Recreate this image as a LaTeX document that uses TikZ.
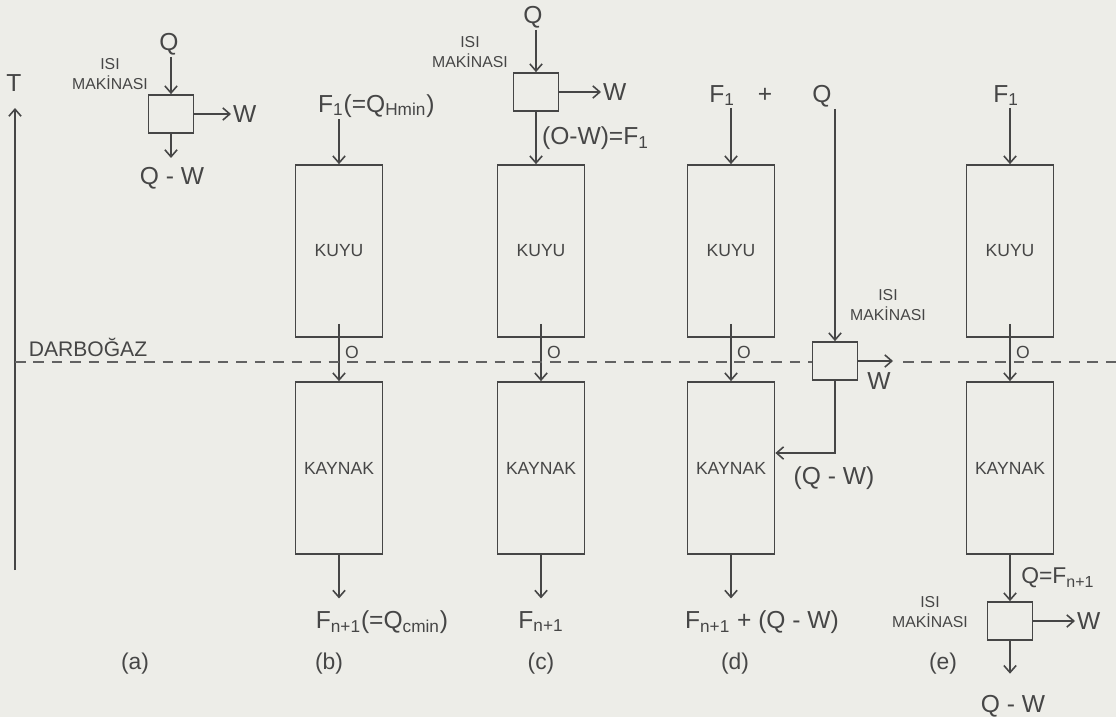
\documentclass[tikz,border=0pt]{standalone}
\usepackage{fontspec}
\setmainfont{Liberation Sans}
\usepackage{tikz}
\usetikzlibrary{arrows.meta,positioning}

\definecolor{kagit}{RGB}{237,237,232}
\definecolor{kalem}{RGB}{70,70,70}

\begin{document}
\begin{tikzpicture}[
    x=0.02cm, y=-0.02cm,
    every node/.style={text=kalem, inner sep=1pt, font=\fontsize{14}{16}\selectfont},
    blok/.style={draw=kalem, line width=1pt, minimum width=1.74cm, minimum height=3.44cm, font=\fontsize{10}{12}\selectfont},
    makina/.style={draw=kalem, fill=kagit, line width=1pt, minimum width=0.9cm, minimum height=0.76cm},
    isi/.style={align=center, inner sep=0pt, font=\fontsize{9}{11}\selectfont},
    harf/.style={font=\fontsize{13}{15}\selectfont},
    ok/.style={draw=kalem, line width=0.9pt, -{Straight Barb[length=4pt,width=7pt]}},
    kesik/.style={draw=kalem!85, line width=0.8pt, dash pattern=on 6pt off 4.5pt}
  ]
  \fill[kagit] (0,0) rectangle (1116,717);
  \useasboundingbox (0,0) rectangle (1116,717);

  \node (t) at (14,83) {T};
  \coordinate (talt) at (15,570);
  \coordinate (tust) at (15,108);
  \draw[ok] (talt) -- (tust);
  \node[font=\fontsize{12}{14}\selectfont] (darbogaz) at (88,347) {DARBOĞAZ};

  \foreach \k/\x in {b/339,c/541,d/731,e/1010}{
    \node[blok] (kuyu\k) at (\x,251) {KUYU};
    \node[blok] (kaynak\k) at (\x,468) {KAYNAK};
    \draw[ok] ([yshift=0.28cm]kuyu\k.south) -- (kaynak\k.north)
      node[midway, right=2pt, font=\fontsize{10}{11}\selectfont] {O};
  }
  \foreach \k/\x in {a/135,b/329,c/541,d/735,e/943}
    \node[harf] (harf\k) at (\x,664) {(\k)};

  % (a)
  \node[makina] (makinaa) at (171,114) {};
  \node[anchor=base] (qa) at (169,50) {Q};
  \node[isi] (isia) at (110,74) {ISI\\MAKİNASI};
  \node[anchor=west] (wa) at (231,114) {W};
  \node[anchor=north] (qwa) at (172,165) {Q - W};
  \draw[ok] (qa.south -| makinaa.north) -- (makinaa.north);
  \draw[ok] (makinaa.east) -- (makinaa.east -| wa.west);
  \draw[ok, shorten >=4pt] (makinaa.south) -- (makinaa.south |- qwa.north);

  % (b)
  \node[anchor=base west] (f1b) at (316,112) {F\textsubscript{1}(=Q\textsubscript{Hmin})};
  \draw[ok] (f1b.south -| kuyub.north) -- (kuyub.north);
  \node[anchor=north] (cikisb) at (382,609) {F\textsubscript{n+1}(=Q\textsubscript{cmin})};

  % (c)
  \node[makina] (makinac) at (536,92) {};
  \node[anchor=base] (qc) at (533,23) {Q};
  \node[isi] (isic) at (470,52) {ISI\\MAKİNASI};
  \node[anchor=west] (wc) at (601,92) {W};
  \draw[ok] (qc.south -| makinac.north) -- (makinac.north);
  \draw[ok] (makinac.east) -- (makinac.east -| wc.west);
  \draw[ok] (makinac.south) -- (makinac.south |- kuyuc.north)
    node[midway, right=2pt] {(O-W)=F\textsubscript{1}};
  \node[anchor=north] (cikisc) at (541,609) {F\textsubscript{n+1}};

  % (d)
  \node[anchor=base] (f1d) at (722,102) {F\textsubscript{1}};
  \node[anchor=base] (artid) at (765,102) {+};
  \node[anchor=base] (qd) at (822,102) {Q};
  \node[makina] (makinad) at (835,361) {};
  \node[isi] (isid) at (888,305) {ISI\\MAKİNASI};
  \coordinate (wucd) at (893,361);
  \node (wd) at (879,381) {W};
  \node (qwd) at (834,478) {(Q - W)};
  \draw[ok] (f1d.south -| kuyud.north) -- (kuyud.north);
  \draw[ok] (qd.south -| makinad.north) -- (makinad.north);
  \draw[ok] (makinad.east) -- (wucd);
  \draw[ok] (makinad.south) |- ([yshift=0.3cm]kaynakd.east);
  \node[anchor=north] (cikisd) at (762,609) {F\textsubscript{n+1} + (Q - W)};

  \foreach \k in {b,c,d}
    \draw[ok, shorten >=6pt] (kaynak\k.south) -- (kaynak\k.south |- cikis\k.north);

  % darbogaz line
  \coordinate (dsol) at (15,362);
  \coordinate (dara) at (903,362);
  \coordinate (dsag) at (1116,362);
  \draw[kesik] (dsol) -- (makinad.west |- dsol);
  \draw[kesik] (dara) -- (dsag);

  % (e)
  \node[anchor=base] (f1e) at (1006,102) {F\textsubscript{1}};
  \draw[ok] (f1e.south -| kuyue.north) -- (kuyue.north);
  \node[makina] (makinae) at (1010,621) {};
  \draw[ok] (kaynake.south) -- (makinae.north)
    node[midway, right=5pt, font=\fontsize{13}{15}\selectfont] {Q=F\textsubscript{n+1}};
  \node[isi] (isie) at (930,612) {ISI\\MAKİNASI};
  \node[anchor=west] (we) at (1075,621) {W};
  \draw[ok] (makinae.east) -- (makinae.east -| we.west);
  \node[anchor=north] (qwe) at (1013,693) {Q - W};
  \draw[ok, shorten >=11pt] (makinae.south) -- (makinae.south |- qwe.north);
\end{tikzpicture}
\end{document}
